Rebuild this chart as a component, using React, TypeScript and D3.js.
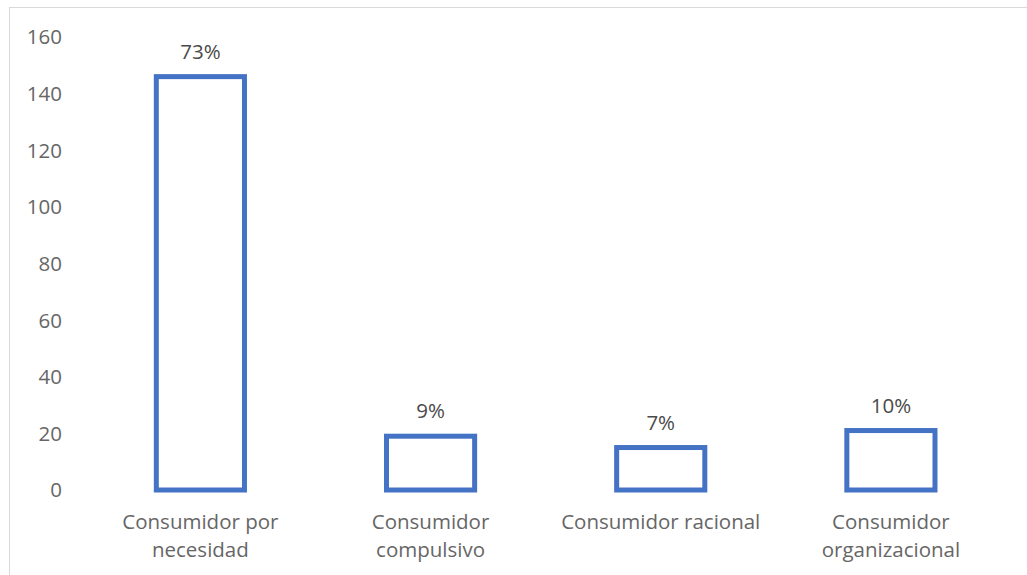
import React from "react";
import * as d3 from "d3";

const categories: string[][] = [
  ["Consumidor por", "necesidad"],
  ["Consumidor", "compulsivo"],
  ["Consumidor racional"],
  ["Consumidor", "organizacional"],
];
const values: number[] = [146, 19, 15, 21];
const percentLabels: string[] = ["73%", "9%", "7%", "10%"];
const yTicks: number[] = [0, 20, 40, 60, 80, 100, 120, 140, 160];

const W = 1027;
const H = 575;
const plot = { left: 85.3, right: 1006, top: 37, bottom: 490 };
const FONT = "'Open Sans', sans-serif";
const FS = 20.5;

export default function App() {
  const x = d3
    .scaleBand<number>()
    .domain(d3.range(values.length))
    .range([plot.left, plot.right])
    .paddingInner(0.617)
    .paddingOuter(0.3085);
  const y = d3.scaleLinear().domain([0, 160]).range([plot.bottom, plot.top]);

  return (
    <svg
      width={W}
      height={H}
      style={{ position: "absolute", left: 0, top: 0, background: "#fff" }}
    >
      <rect x={9.5} y={7.5} width={W + 20} height={H + 20} fill="#fff" stroke="#d9d9d9" strokeWidth={1} />
      {yTicks.map((t) => (
        <text
          key={t}
          x={62}
          y={y(t)}
          dy="0.36em"
          textAnchor="end"
          fontFamily={FONT}
          fontSize={FS}
          fill="#666666"
        >
          {t}
        </text>
      ))}
      {values.map((v, i) => {
        const x0 = x(i)!;
        const bw = x.bandwidth();
        const cx = x0 + bw / 2;
        return (
          <g key={i}>
            <rect
              x={x0}
              y={y(v)}
              width={bw}
              height={y(0) - y(v)}
              fill="none"
              stroke="#4472C4"
              strokeWidth={5}
            />
            <text
              x={cx}
              y={y(v) - 18}
              textAnchor="middle"
              fontFamily={FONT}
              fontSize={FS}
              fill="#4a4a4a"
            >
              {percentLabels[i]}
            </text>
            {categories[i].map((line, j) => (
              <text
                key={j}
                x={cx}
                y={529 + j * 28}
                textAnchor="middle"
                fontFamily={FONT}
                fontSize={FS}
                fill="#666666"
              >
                {line}
              </text>
            ))}
          </g>
        );
      })}
    </svg>
  );
}
